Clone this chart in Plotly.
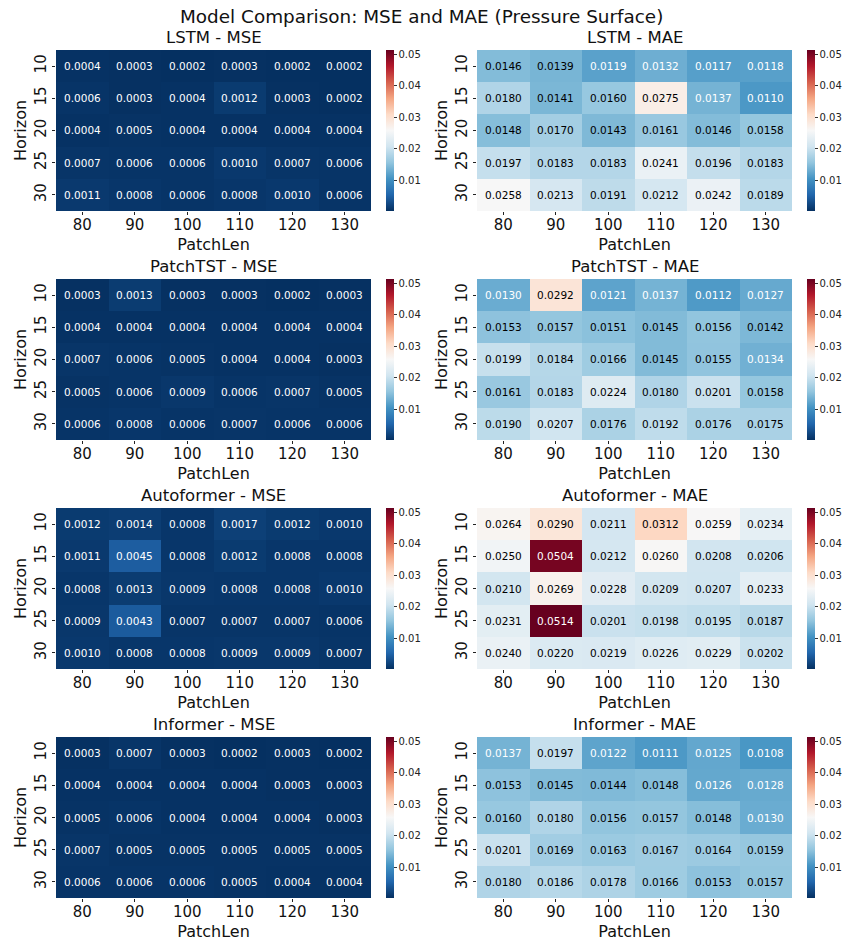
import plotly.graph_objects as go

patch_len = ["80", "90", "100", "110", "120", "130"]
horizons = ["10", "15", "20", "25", "30"]

lstm_mse = [
    [0.0004, 0.0003, 0.0002, 0.0003, 0.0002, 0.0002],
    [0.0006, 0.0003, 0.0004, 0.0012, 0.0003, 0.0002],
    [0.0004, 0.0005, 0.0004, 0.0004, 0.0004, 0.0004],
    [0.0007, 0.0006, 0.0006, 0.0010, 0.0007, 0.0006],
    [0.0011, 0.0008, 0.0006, 0.0008, 0.0010, 0.0006],
]
lstm_mae = [
    [0.0146, 0.0139, 0.0119, 0.0132, 0.0117, 0.0118],
    [0.0180, 0.0141, 0.0160, 0.0275, 0.0137, 0.0110],
    [0.0148, 0.0170, 0.0143, 0.0161, 0.0146, 0.0158],
    [0.0197, 0.0183, 0.0183, 0.0241, 0.0196, 0.0183],
    [0.0258, 0.0213, 0.0191, 0.0212, 0.0242, 0.0189],
]
patchtst_mse = [
    [0.0003, 0.0013, 0.0003, 0.0003, 0.0002, 0.0003],
    [0.0004, 0.0004, 0.0004, 0.0004, 0.0004, 0.0004],
    [0.0007, 0.0006, 0.0005, 0.0004, 0.0004, 0.0003],
    [0.0005, 0.0006, 0.0009, 0.0006, 0.0007, 0.0005],
    [0.0006, 0.0008, 0.0006, 0.0007, 0.0006, 0.0006],
]
patchtst_mae = [
    [0.0130, 0.0292, 0.0121, 0.0137, 0.0112, 0.0127],
    [0.0153, 0.0157, 0.0151, 0.0145, 0.0156, 0.0142],
    [0.0199, 0.0184, 0.0166, 0.0145, 0.0155, 0.0134],
    [0.0161, 0.0183, 0.0224, 0.0180, 0.0201, 0.0158],
    [0.0190, 0.0207, 0.0176, 0.0192, 0.0176, 0.0175],
]
autoformer_mse = [
    [0.0012, 0.0014, 0.0008, 0.0017, 0.0012, 0.0010],
    [0.0011, 0.0045, 0.0008, 0.0012, 0.0008, 0.0008],
    [0.0008, 0.0013, 0.0009, 0.0008, 0.0008, 0.0010],
    [0.0009, 0.0043, 0.0007, 0.0007, 0.0007, 0.0006],
    [0.0010, 0.0008, 0.0008, 0.0009, 0.0009, 0.0007],
]
autoformer_mae = [
    [0.0264, 0.0290, 0.0211, 0.0312, 0.0259, 0.0234],
    [0.0250, 0.0504, 0.0212, 0.0260, 0.0208, 0.0206],
    [0.0210, 0.0269, 0.0228, 0.0209, 0.0207, 0.0233],
    [0.0231, 0.0514, 0.0201, 0.0198, 0.0195, 0.0187],
    [0.0240, 0.0220, 0.0219, 0.0226, 0.0229, 0.0202],
]
informer_mse = [
    [0.0003, 0.0007, 0.0003, 0.0002, 0.0003, 0.0002],
    [0.0004, 0.0004, 0.0004, 0.0004, 0.0003, 0.0003],
    [0.0005, 0.0006, 0.0004, 0.0004, 0.0004, 0.0003],
    [0.0007, 0.0005, 0.0005, 0.0005, 0.0005, 0.0005],
    [0.0006, 0.0006, 0.0006, 0.0005, 0.0004, 0.0004],
]
informer_mae = [
    [0.0137, 0.0197, 0.0122, 0.0111, 0.0125, 0.0108],
    [0.0153, 0.0145, 0.0144, 0.0148, 0.0126, 0.0128],
    [0.0160, 0.0180, 0.0156, 0.0157, 0.0148, 0.0130],
    [0.0201, 0.0169, 0.0163, 0.0167, 0.0164, 0.0159],
    [0.0180, 0.0186, 0.0178, 0.0166, 0.0153, 0.0157],
]

models = ["LSTM", "PatchTST", "Autoformer", "Informer"]
panels = [
    (lstm_mse, lstm_mae),
    (patchtst_mse, patchtst_mae),
    (autoformer_mse, autoformer_mae),
    (informer_mse, informer_mae),
]
cbar_ticks = [0.01, 0.02, 0.03, 0.04, 0.05]

# ColorBrewer RdBu reversed (matplotlib RdBu_r)
rdbu_r_hex = ["#053061", "#2166ac", "#4393c3", "#92c5de", "#d1e5f0", "#f7f7f7",
              "#fddbc7", "#f4a582", "#d6604d", "#b2182b", "#67001f"]
colorscale = [[i / (len(rdbu_r_hex) - 1), c] for i, c in enumerate(rdbu_r_hex)]

all_vals = [v for pair in panels for m in pair for row in m for v in row]
zmin, zmax = min(all_vals), max(all_vals)


def hex2rgb(h):
    h = h.lstrip("#")
    return [int(h[i:i + 2], 16) / 255 for i in (0, 2, 4)]


rgb_stops = [hex2rgb(c) for c in rdbu_r_hex]


def cmap(v):
    t = (v - zmin) / (zmax - zmin)
    t = min(max(t, 0), 1) * (len(rgb_stops) - 1)
    i = min(int(t), len(rgb_stops) - 2)
    f = t - i
    return [rgb_stops[i][k] * (1 - f) + rgb_stops[i + 1][k] * f for k in range(3)]


def lum(rgb):
    lin = [c / 12.92 if c <= 0.03928 else ((c + 0.055) / 1.055) ** 2.4 for c in rgb]
    return 0.2126 * lin[0] + 0.7152 * lin[1] + 0.0722 * lin[2]


W, H = 843, 941
row_tops = [50, 279, 508, 737]
cell_h = 161
col_x = [(56, 371), (477, 792)]
cbar_x = [386, 807]
FONT = "DejaVu Sans"

fig = go.Figure()
annotations = []
layout_axes = {}
k = 0
for r, model in enumerate(models):
    for c, metric in enumerate(["MSE", "MAE"]):
        k += 1
        z = panels[r][c]
        xa = "x" if k == 1 else f"x{k}"
        ya = "y" if k == 1 else f"y{k}"
        top = row_tops[r]
        x0, x1 = col_x[c]
        fig.add_trace(go.Heatmap(
            z=z, x=patch_len, y=horizons,
            colorscale=colorscale, zmin=zmin, zmax=zmax,
            xaxis=xa, yaxis=ya, hoverinfo="skip",
            colorbar=dict(
                x=cbar_x[c] / W, xanchor="left",
                y=1 - (top + cell_h / 2) / H, yanchor="middle",
                len=cell_h / H, lenmode="fraction",
                thickness=8, outlinewidth=0,
                tickvals=cbar_ticks, tickformat=".2f",
                ticks="outside", ticklen=3, tickwidth=1, tickcolor="#333",
                tickfont=dict(family=FONT, size=10, color="#222"),
                xpad=0, ypad=0,
            ),
        ))
        xkey = "xaxis" if k == 1 else f"xaxis{k}"
        ykey = "yaxis" if k == 1 else f"yaxis{k}"
        layout_axes[xkey] = dict(
            type="category",
            domain=[x0 / W, x1 / W], anchor=ya,
            ticks="outside", ticklen=3, tickcolor="#222",
            ticklabelstandoff=-3,
            showgrid=False, zeroline=False, showline=False,
            tickfont=dict(family=FONT, size=15, color="#111"),
            title=dict(text="PatchLen", standoff=5,
                       font=dict(family=FONT, size=16, color="#111")),
        )
        layout_axes[ykey] = dict(
            type="category",
            domain=[1 - (top + cell_h) / H, 1 - top / H], anchor=xa,
            autorange="reversed", tickangle=-90,
            ticks="outside", ticklen=3, tickcolor="#222",
            showgrid=False, zeroline=False, showline=False,
            tickfont=dict(family=FONT, size=15, color="#111"),
            title=dict(text="Horizon", standoff=1,
                       font=dict(family=FONT, size=16, color="#111")),
        )
        # subplot title
        annotations.append(dict(
            text=f"{model} - {metric}", xref="paper", yref="paper",
            x=(x0 + x1) / 2 / W, y=1 - (top - 1) / H,
            xanchor="center", yanchor="bottom", showarrow=False,
            font=dict(family=FONT, size=16.5, color="#111"),
        ))
        # cell annotations
        for i, hz in enumerate(horizons):
            for j, pl in enumerate(patch_len):
                v = z[i][j]
                col = "#000000" if lum(cmap(v)) > 0.408 else "#ffffff"
                annotations.append(dict(
                    text=f"{v:.4f}", x=j, y=i, xref=xa, yref=ya,
                    showarrow=False,
                    font=dict(family=FONT, size=10.5, color=col),
                ))

annotations.append(dict(
    text="Model Comparison: MSE and MAE (Pressure Surface)",
    xref="paper", yref="paper", x=0.5, y=1 - 17 / H,
    xanchor="center", yanchor="middle", showarrow=False,
    font=dict(family=FONT, size=18.4, color="#111"),
))

fig.update_layout(
    width=W, height=H,
    margin=dict(l=0, r=0, t=0, b=0),
    paper_bgcolor="white", plot_bgcolor="white",
    annotations=annotations,
    showlegend=False,
    **layout_axes,
)

fig.write_html("out.html")
